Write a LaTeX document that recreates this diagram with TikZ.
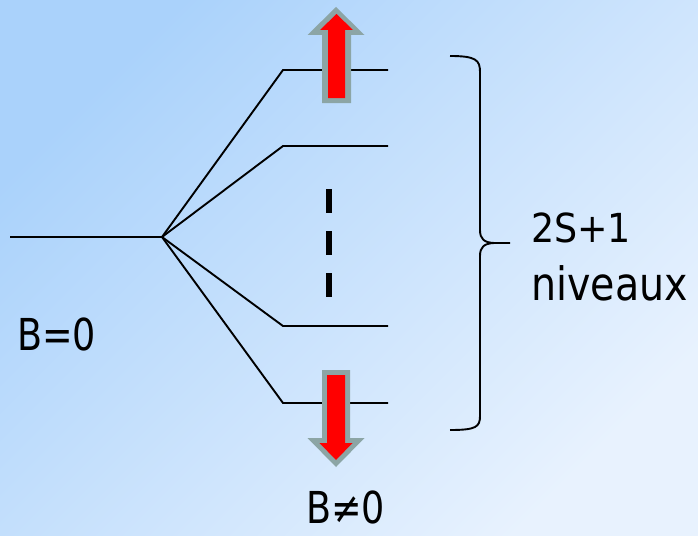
\documentclass[tikz,border=0pt]{standalone}
\usepackage{fontspec}
\usepackage{graphicx}
\setmainfont{DejaVu Sans}
\definecolor{bgA}{RGB}{170,210,251}
\definecolor{bgB}{RGB}{232,242,254}
\definecolor{arrgray}{RGB}{140,165,165}
\newcommand{\sqtext}[3]{\scalebox{#1}[1]{\fontsize{#2}{#2}\selectfont #3}}
\begin{document}
\begin{tikzpicture}[x=1pt,y=-1pt,
  level/.style={line width=1.9pt,black},
  fan/.style={line width=1.9pt,black},
  bracestyle/.style={line width=1.9pt,black},
  lbl/.style={inner sep=0pt,text=black}]
\shade[top color=bgA,bottom color=bgB,shading angle=45] (0,0) rectangle (698,535);
\useasboundingbox (0,0) rectangle (698,535);
% coordinates
\coordinate (L0) at (10,237);
\coordinate (C) at (162,237);
\coordinate (a1) at (283,70);   \coordinate (b1) at (388,70);
\coordinate (a2) at (283,146);  \coordinate (b2) at (388,146);
\coordinate (a3) at (283,326);  \coordinate (b3) at (388,326);
\coordinate (a4) at (283,403);  \coordinate (b4) at (388,403);
\coordinate (d1) at (329,189);  \coordinate (d2) at (329,297);
% levels
\draw[level] (L0) -- (C);
\draw[fan] (C) -- (a1) -- (b1);
\draw[fan] (C) -- (a2) -- (b2);
\draw[fan] (C) -- (a3) -- (b3);
\draw[fan] (C) -- (a4) -- (b4);
\draw[line width=6pt,dash pattern=on 24pt off 18pt] (d1) -- (d2);
% arrows
\fill[arrgray] (336,7) -- (364.5,35) -- (351,35) -- (351,103) -- (322,103) -- (322,35) -- (307.5,35) -- cycle;
\fill[red] (336.5,14) -- (353,30) -- (345,30) -- (345,98) -- (328,98) -- (328,30) -- (320,30) -- cycle;
\fill[arrgray] (322,370) -- (350,370) -- (350,438) -- (364.5,438) -- (336,467) -- (307.5,438) -- (322,438) -- cycle;
\fill[red] (327,375) -- (345,375) -- (345,443) -- (352.5,443) -- (336,460) -- (319.5,443) -- (327,443) -- cycle;
% brace
\coordinate (bt) at (450,56);
\coordinate (bb) at (450,430);
\coordinate (tip) at (510,243);
\draw[bracestyle,line join=round] (bt) .. controls (476,56) and (480,60) .. (480,72) -- (480,230) .. controls (480,239) and (484,242.5) .. (494,243) -- (tip);
\draw[bracestyle,line join=round] (494,243) .. controls (484,243.5) and (480,247) .. (480,256) -- (480,416) .. controls (480,427) and (476,430) .. (bb);
% labels
\node[lbl,anchor=base west] (t1) at (531,242) {\sqtext{0.91}{40}{2S+1}};
\node[lbl,anchor=base west] (t2) at (531,300) {\sqtext{0.86}{46}{niveaux}};
\node[lbl,anchor=base west] (t3) at (17,350) {\sqtext{0.83}{44}{B=0}};
\node[lbl,anchor=base west] (t4) at (306,523) {\sqtext{0.83}{44}{B≠0}};
\end{tikzpicture}
\end{document}
